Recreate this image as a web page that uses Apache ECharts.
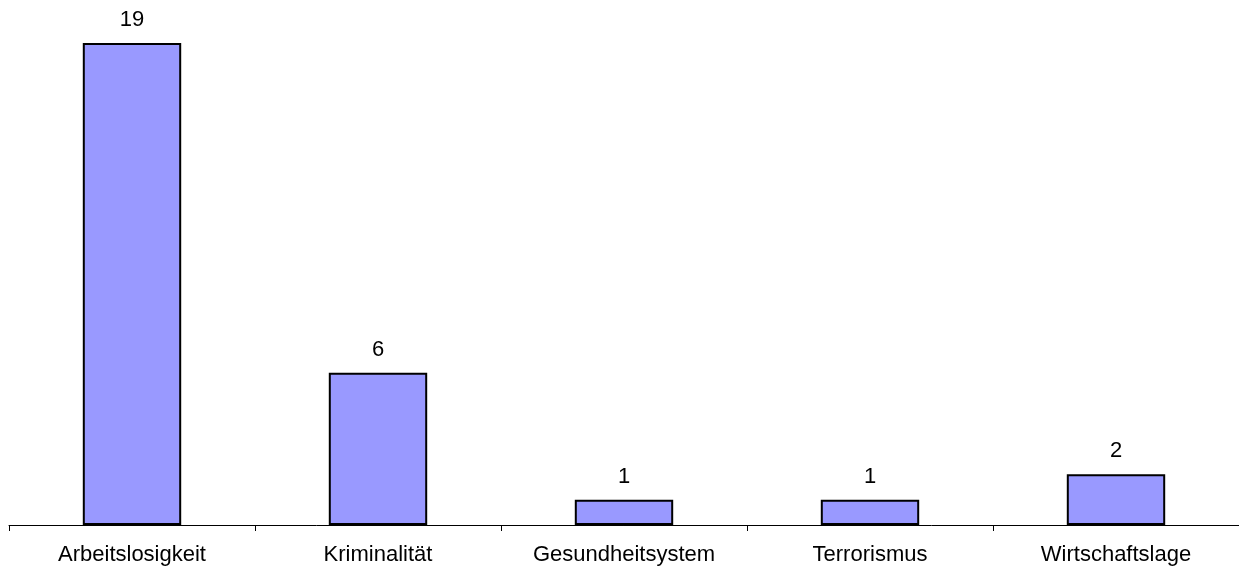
<!DOCTYPE html>
<html>
<head>
<meta charset="utf-8">
<script src="https://cdn.jsdelivr.net/npm/echarts@6/dist/echarts.min.js"></script>
<style>
  html, body { margin: 0; padding: 0; background: #fff; }
  #chart { width: 1239px; height: 569px; }
</style>
</head>
<body>
<div id="chart"></div>
<script>
var categories = ['Arbeitslosigkeit', 'Kriminalität', 'Gesundheitsystem', 'Terrorismus', 'Wirtschaftslage'];
var counts = [19, 6, 1, 1, 2];

var myChart = echarts.init(document.getElementById('chart'));

myChart.setOption({
    animation: false,
    grid: { left: 9, right: 0, top: 43, bottom: 44, containLabel: false },
    xAxis: {
        type: 'category',
        data: categories,
        axisLine: { lineStyle: { color: '#000', width: 1 } },
        axisTick: { show: true, length: 6, lineStyle: { color: '#000' } },
        axisLabel: {
            color: '#000',
            fontFamily: 'Liberation Sans, Arial, sans-serif',
            fontSize: 22,
            margin: 19
        }
    },
    yAxis: {
        type: 'value',
        min: 0,
        max: 19,
        show: false,
        splitLine: { show: false }
    },
    series: [{
        type: 'bar',
        data: counts,
        barWidth: '40%',
        itemStyle: { color: '#9999FF', borderColor: '#000', borderWidth: 2 },
        label: {
            show: true,
            position: 'top',
            distance: 12,
            color: '#000',
            fontFamily: 'Liberation Sans, Arial, sans-serif',
            fontSize: 22
        }
    }]
});
</script>
</body>
</html>
